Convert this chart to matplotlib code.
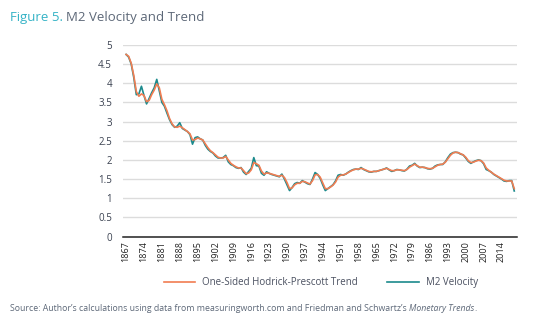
import numpy as np
import matplotlib
matplotlib.use("Agg")
import matplotlib.pyplot as plt

plt.rcParams['font.family'] = ['Open Sans', 'DejaVu Sans']

# ---- data ---------------------------------------------------------
years = np.arange(1867, 2020)

velocity = [
    4.75, 4.68, 4.50, 4.15, 3.70, 3.72, 3.92, 3.68, 3.46, 3.60,   # 1867-1876
    3.75, 3.88, 4.10, 3.80, 3.50, 3.40, 3.22, 3.05, 2.92, 2.85,   # 1877-1886
    2.88, 2.97, 2.82, 2.78, 2.74, 2.66, 2.41, 2.58, 2.60, 2.55,   # 1887-1896
    2.52, 2.38, 2.28, 2.22, 2.18, 2.10, 2.05, 2.05, 2.06, 2.12,   # 1897-1906
    1.95, 1.88, 1.85, 1.80, 1.78, 1.80, 1.68, 1.62, 1.70, 1.78,   # 1907-1916
    2.06, 1.85, 1.84, 1.65, 1.60, 1.69, 1.65, 1.62, 1.60, 1.58,   # 1917-1926
    1.56, 1.63, 1.50, 1.35, 1.20, 1.28, 1.38, 1.41, 1.39, 1.46,   # 1927-1936
    1.42, 1.38, 1.36, 1.50, 1.67, 1.62, 1.52, 1.35, 1.20, 1.25,   # 1937-1946
    1.30, 1.35, 1.45, 1.60, 1.62, 1.60, 1.63, 1.68, 1.72, 1.75,   # 1947-1956
    1.76, 1.75, 1.80, 1.75, 1.72, 1.69, 1.68, 1.70, 1.70, 1.72,   # 1957-1966
    1.74, 1.76, 1.79, 1.74, 1.70, 1.72, 1.75, 1.74, 1.72, 1.71,   # 1967-1976
    1.76, 1.84, 1.86, 1.91, 1.84, 1.80, 1.81, 1.80, 1.77, 1.76,   # 1977-1986
    1.78, 1.84, 1.87, 1.88, 1.88, 1.95, 2.06, 2.15, 2.19, 2.20,   # 1987-1996
    2.19, 2.15, 2.13, 2.05, 1.96, 1.91, 1.95, 1.98, 2.00, 1.98,   # 1997-2006
    1.90, 1.75, 1.72, 1.68, 1.62, 1.58, 1.54, 1.50, 1.45, 1.44,   # 2007-2016
    1.46, 1.46, 1.19,                                             # 2017-2019
]

trend = [
    4.75, 4.70, 4.52, 4.20, 3.78, 3.66, 3.72, 3.68, 3.52, 3.55,
    3.70, 3.82, 3.98, 3.88, 3.58, 3.44, 3.28, 3.08, 2.94, 2.86,
    2.85, 2.88, 2.84, 2.79, 2.74, 2.68, 2.52, 2.53, 2.57, 2.55,
    2.52, 2.42, 2.32, 2.24, 2.19, 2.13, 2.07, 2.05, 2.05, 2.09,
    2.00, 1.91, 1.86, 1.82, 1.79, 1.79, 1.72, 1.64, 1.66, 1.74,
    1.93, 1.90, 1.86, 1.71, 1.63, 1.66, 1.65, 1.63, 1.61, 1.59,
    1.57, 1.60, 1.54, 1.41, 1.25, 1.27, 1.35, 1.39, 1.39, 1.44,
    1.43, 1.40, 1.37, 1.46, 1.61, 1.62, 1.55, 1.40, 1.25, 1.25,
    1.29, 1.34, 1.42, 1.55, 1.60, 1.61, 1.63, 1.67, 1.71, 1.74,
    1.76, 1.76, 1.78, 1.76, 1.73, 1.70, 1.69, 1.70, 1.70, 1.72,
    1.74, 1.76, 1.78, 1.75, 1.72, 1.72, 1.74, 1.74, 1.73, 1.72,
    1.75, 1.81, 1.85, 1.89, 1.85, 1.81, 1.81, 1.80, 1.78, 1.77,
    1.78, 1.82, 1.86, 1.88, 1.89, 1.94, 2.03, 2.12, 2.18, 2.20,
    2.19, 2.16, 2.13, 2.07, 1.98, 1.93, 1.94, 1.97, 1.99, 1.98,
    1.92, 1.79, 1.73, 1.68, 1.63, 1.59, 1.55, 1.51, 1.47, 1.45,
    1.45, 1.45, 1.25,
]

tick_years = np.arange(1867, 2020, 7)
y_ticks = [0, 0.5, 1, 1.5, 2, 2.5, 3, 3.5, 4, 4.5, 5]

# ---- figure -------------------------------------------------------
fig = plt.figure(figsize=(5.35, 3.25), dpi=100)
ax = fig.add_axes([0.230, 0.272, 0.736, 0.590])

teal = "#1b8a8c"
orange = "#f17d52"

ax.plot(years, velocity, color=teal, lw=1.2, label="M2 Velocity", zorder=3)
ax.plot(years, trend, color=orange, lw=1.2, label="One-Sided Hodrick-Prescott Trend", zorder=4)

ax.set_xlim(1865.8, 2020)
ax.set_ylim(0, 5)
ax.set_yticks(y_ticks)
ax.set_yticklabels(["0", "0.5", "1", "1.5", "2", "2.5", "3", "3.5", "4", "4.5", "5"])
ax.set_xticks(tick_years)
ax.set_xticklabels([str(y) for y in tick_years], rotation=90)

ax.grid(axis="y", color="#dcdcdc", lw=1.0, zorder=0)
ax.set_axisbelow(True)
for s in ["top", "right", "left"]:
    ax.spines[s].set_visible(False)
ax.spines["bottom"].set_color("#222222")
ax.spines["bottom"].set_linewidth(1.1)
ax.tick_params(axis="both", length=0)
ax.tick_params(axis="y", labelsize=7, colors="#3a4150", pad=8)
ax.tick_params(axis="x", labelsize=6.5, colors="#222222", pad=3)

handles, labels = ax.get_legend_handles_labels()
fig.legend(handles[::-1], labels[::-1], loc="center", bbox_to_anchor=(0.6, 0.13),
           ncol=2, frameon=False, fontsize=7, handlelength=3.2, columnspacing=3.0,
           labelcolor="#4a5060")

# title in two colours
t1 = fig.text(0.019, 0.947, "Figure 5.", color="#35b3c6", fontsize=9.5, va="center")
fig.canvas.draw()
bb = t1.get_window_extent()
x2 = bb.x1 / fig.bbox.width + 0.006
fig.text(x2, 0.947, "M2 Velocity and Trend", color="#5d6878", fontsize=9.5, va="center")

# source line
s1 = fig.text(0.019, 0.052, "Source: Author\u2019s calculations using data from measuringworth.com and "
              "Friedman and Schwartz\u2019s ", color="#5d6878", fontsize=6.3, va="center")
fig.canvas.draw()
bb = s1.get_window_extent()
fig.text(bb.x1 / fig.bbox.width, 0.052, "Monetary Trends", color="#5d6878", fontsize=6.3,
         va="center", style="italic")
bb2 = fig.texts[-1].get_window_extent()
fig.text(bb2.x1 / fig.bbox.width, 0.052, ".", color="#5d6878", fontsize=6.3, va="center")

fig.savefig("out.png", dpi=100)
